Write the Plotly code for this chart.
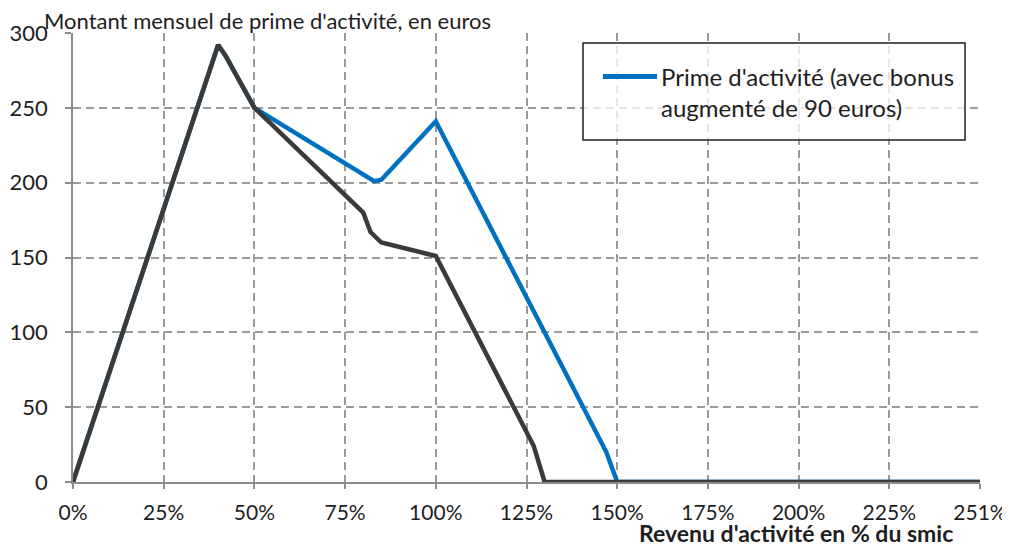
import plotly.graph_objects as go

# revenu d'activité en % du smic
revenu_base = [0, 40, 42, 50, 80, 82, 85, 100, 127, 130, 150, 175, 200, 225, 250]
prime_base = [0, 292, 285, 250, 180, 167, 160, 151, 24, 0, 0, 0, 0, 0, 0]

revenu_bonus = [0, 40, 42, 50, 83, 85, 100, 147, 150, 175, 200, 225, 250]
prime_bonus = [0, 292, 285, 250, 201, 202, 241, 20, 0, 0, 0, 0, 0]

x_ticks = [0, 25, 50, 75, 100, 125, 150, 175, 200, 225, 250]
x_labels = ["0%", "25%", "50%", "75%", "100%", "125%", "150%", "175%", "200%", "225%", "251%"]
y_ticks = [0, 50, 100, 150, 200, 250, 300]

legend_label = "Prime d'activité (avec bonus<br>augmenté de 90 euros)"

FONT = "Lato"
BLUE = "#0070C0"
DARK = "#3a3a3a"
GRID = "#9a9a9a"
AXIS = "#8c8c8c"

fig = go.Figure()

fig.add_trace(go.Scatter(
    x=revenu_bonus, y=prime_bonus,
    mode="lines",
    name=legend_label,
    showlegend=False,
    line=dict(color=BLUE, width=4.5),
))
fig.add_trace(go.Scatter(
    x=revenu_base, y=prime_base,
    mode="lines",
    name="Prime d'activité",
    showlegend=False,
    line=dict(color=DARK, width=4.5),
))

# page body has an 8px margin, so the figure is slightly smaller than the window
fig.update_layout(
    width=1002,
    height=537,
    margin=dict(l=65, r=30, t=25, b=63),
    paper_bgcolor="white",
    plot_bgcolor="white",
    font=dict(family=FONT, size=22, color="#1e1e1e"),
    showlegend=False,
)

fig.update_xaxes(
    range=[0, 250],
    tickmode="array", tickvals=x_ticks, ticktext=x_labels,
    tickfont=dict(size=21),
    showgrid=True, gridcolor=GRID, griddash="8px,5px", gridwidth=1.5,
    showline=True, linecolor=AXIS, linewidth=1.5,
    ticks="outside", ticklen=5, tickcolor=AXIS, tickwidth=1.5,
    ticklabelstandoff=6,
    zeroline=False,
    automargin=False,
)
fig.update_yaxes(
    range=[0, 300],
    tickmode="array", tickvals=y_ticks,
    showgrid=True, gridcolor=GRID, griddash="8px,5px", gridwidth=1.5,
    showline=True, linecolor=AXIS, linewidth=1.5,
    ticks="outside", ticklen=6, tickcolor=AXIS, tickwidth=1.5,
    ticklabelstandoff=13,
    zeroline=False,
    automargin=False,
)

fig.add_annotation(
    text="Montant mensuel de prime d'activité, en euros",
    xref="paper", yref="paper", x=-0.034, y=1.028,
    xanchor="left", yanchor="middle", showarrow=False,
    font=dict(size=22),
)
fig.add_annotation(
    text="<b>Revenu d'activité en % du smic</b>",
    xref="paper", yref="paper", x=0.972, y=-0.113,
    xanchor="right", yanchor="middle", showarrow=False,
    font=dict(size=23),
)

# legend box drawn by hand to match the original's proportions
fig.add_shape(
    type="rect", xref="paper", yref="paper",
    x0=0.5623, x1=0.9835, y0=0.7617, y1=0.9777,
    line=dict(color="#1e1e1e", width=1.5),
    fillcolor="rgba(255,255,255,0.75)",
)
fig.add_shape(
    type="line", xref="paper", yref="paper",
    x0=0.5843, x1=0.6439, y0=0.9031, y1=0.9031,
    line=dict(color=BLUE, width=5),
)
fig.add_annotation(
    text=legend_label,
    xref="paper", yref="paper", x=0.6461, y=0.8675,
    xanchor="left", yanchor="middle", align="left", showarrow=False,
    font=dict(size=24),
)

fig.write_html("out.html")
